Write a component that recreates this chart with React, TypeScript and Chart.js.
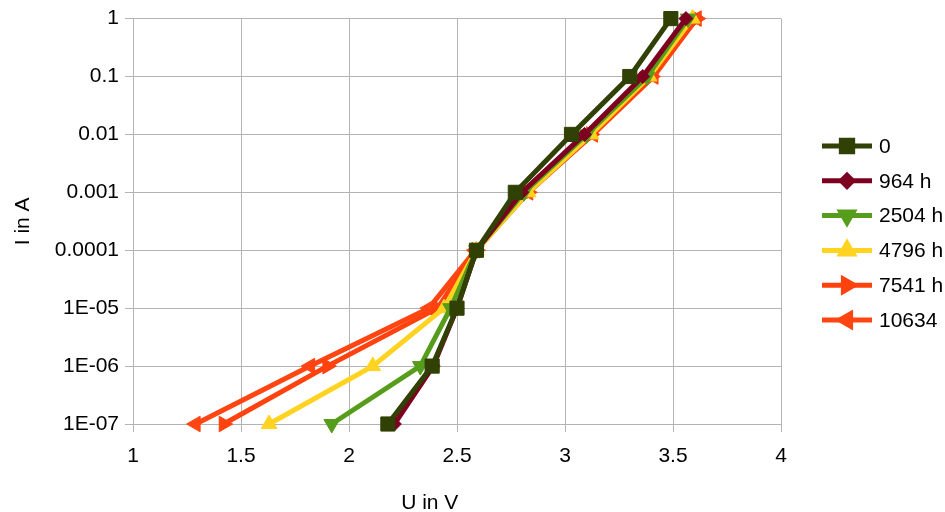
import { useEffect, useRef } from 'react';
import { Chart, registerables } from 'chart.js';
import { drawPoint } from 'chart.js/helpers';

Chart.register(...registerables);

// I in A (y) levels shared by every series
const currentLevels = [1e-7, 1e-6, 1e-5, 1e-4, 1e-3, 1e-2, 1e-1, 1];

// U in V (x) per series
const voltage0 = [2.18, 2.385, 2.5, 2.59, 2.77, 3.03, 3.3, 3.49];
const voltage964 = [2.21, 2.39, 2.5, 2.59, 2.8, 3.09, 3.36, 3.56];
const voltage2504 = [1.92, 2.33, 2.47, 2.59, 2.81, 3.1, 3.38, 3.57];
const voltage4796 = [1.63, 2.11, 2.44, 2.59, 2.83, 3.12, 3.39, 3.59];
const voltage7541 = [1.42, 1.9, 2.41, 2.59, 2.83, 3.12, 3.4, 3.61];
const voltage10634 = [1.29, 1.82, 2.37, 2.585, 2.83, 3.13, 3.41, 3.61];

const seriesNames = ['0', '964 h', '2504 h', '4796 h', '7541 h', '10634'];
const seriesVoltages = [voltage0, voltage964, voltage2504, voltage4796, voltage7541, voltage10634];

const yTickValues = [1, 0.1, 0.01, 0.001, 0.0001, 1e-5, 1e-6, 1e-7];
const yTickLabels = ['1', '0.1', '0.01', '0.001', '0.0001', '1E-05', '1E-06', '1E-07'];
const xTickValues = [1, 1.5, 2, 2.5, 3, 3.5, 4];
const xTickLabels = ['1', '1.5', '2', '2.5', '3', '3.5', '4'];

const xTitle = 'U in V';
const yTitle = 'I in A';

const styles = [
  { color: '#314004', pointStyle: 'rect', rotation: 0, radius: 10 },
  { color: '#7e0021', pointStyle: 'rectRot', rotation: 0, radius: 7 },
  { color: '#579d1c', pointStyle: 'triangle', rotation: 180, radius: 9 },
  { color: '#ffd320', pointStyle: 'triangle', rotation: 0, radius: 9 },
  { color: '#ff420e', pointStyle: 'triangle', rotation: 90, radius: 9 },
  { color: '#ff4512', pointStyle: 'triangle', rotation: 270, radius: 9 },
];

const FONT = "'Liberation Sans', Arial, sans-serif";
const FSIZE = 21;

const customPlugin = {
  id: 'customLegendTitle',
  afterDraw(chart: any) {
    const ctx = chart.ctx;
    const area = chart.chartArea;
    ctx.save();
    // x-axis title
    ctx.fillStyle = '#000';
    ctx.font = `${FSIZE}px ${FONT}`;
    ctx.textAlign = 'center';
    ctx.textBaseline = 'middle';
    ctx.fillText(xTitle, area.left + (area.right - area.left) * 0.458, 503);
    // legend
    const x0 = area.right + 41;
    chart.data.datasets.forEach((ds: any, i: number) => {
      const y = 146 + i * 34.8;
      ctx.strokeStyle = ds.borderColor;
      ctx.lineWidth = 5;
      ctx.beginPath();
      ctx.moveTo(x0, y);
      ctx.lineTo(x0 + 50, y);
      ctx.stroke();
      ctx.fillStyle = ds.backgroundColor;
      ctx.strokeStyle = ds.borderColor;
      drawPoint(ctx, {
        pointStyle: ds.pointStyle,
        rotation: ds.pointRotation,
        radius: ds.pointRadius * 0.8,
        borderWidth: 1,
      } as any, x0 + 25, y);
      ctx.fillStyle = '#000';
      ctx.textAlign = 'left';
      ctx.textBaseline = 'middle';
      ctx.font = `${FSIZE}px ${FONT}`;
      ctx.fillText(ds.label, x0 + 57, y + 1);
    });
    ctx.restore();
  },
};

export default function App() {
  const ref = useRef<HTMLCanvasElement | null>(null);
  useEffect(() => {
    if (!ref.current) return;
    const datasets = seriesVoltages.map((vs, i) => ({
      label: seriesNames[i],
      data: vs.map((v, j) => ({ x: v, y: currentLevels[j] })),
      borderColor: styles[i].color,
      backgroundColor: styles[i].color,
      borderWidth: 5,
      pointStyle: styles[i].pointStyle,
      pointRotation: styles[i].rotation,
      pointRadius: styles[i].radius,
      pointBorderWidth: 1,
      tension: 0,
      clip: false,
    }));
    const chart = new Chart(ref.current, {
      type: 'line',
      data: { datasets: datasets as any },
      plugins: [customPlugin],
      options: {
        animation: false,
        responsive: false,
        maintainAspectRatio: false,
        layout: { padding: { top: 18, right: 164, left: 0, bottom: 0 } },
        plugins: { legend: { display: false }, tooltip: { enabled: false } },
        scales: {
          x: {
            type: 'linear',
            min: 1,
            max: 4,
            afterBuildTicks: (scale: any) => {
              scale.ticks = xTickValues.map((v) => ({ value: v }));
            },
            ticks: {
              color: '#000',
              font: { family: FONT, size: FSIZE },
              padding: 12,
              autoSkip: false,
              maxRotation: 0,
              callback: (value: any) => {
                const idx = xTickValues.findIndex((v) => Math.abs(v - Number(value)) < 1e-6);
                return idx >= 0 ? xTickLabels[idx] : '';
              },
            },
            grid: { color: '#b3b3b3', tickLength: 8, lineWidth: 1 },
            border: { color: '#b3b3b3' },
            afterFit: (scale: any) => {
              scale.height = 88;
            },
          },
          y: {
            type: 'logarithmic',
            min: 1e-7,
            max: 1,
            afterBuildTicks: (scale: any) => {
              scale.ticks = yTickValues.map((v) => ({ value: v }));
            },
            ticks: {
              color: '#000',
              font: { family: FONT, size: FSIZE },
              padding: 6,
              autoSkip: false,
              callback: (value: any) => {
                const idx = yTickValues.findIndex((v) => Math.abs(Math.log10(v) - Math.log10(Number(value))) < 1e-6);
                return idx >= 0 ? yTickLabels[idx] : '';
              },
            },
            grid: { color: '#b3b3b3', tickLength: 8, lineWidth: 1 },
            border: { color: '#b3b3b3' },
            title: {
              display: true,
              text: yTitle,
              color: '#000',
              font: { family: FONT, size: FSIZE },
              padding: { top: 11, bottom: 4 },
            },
            afterFit: (scale: any) => {
              scale.width = 133;
            },
          },
        },
      },
    });
    return () => chart.destroy();
  }, []);
  return (
    <div style={{ position: 'fixed', left: 0, top: 0, width: 945, height: 512, background: '#fff' }}>
      <canvas ref={ref} width={945} height={512} style={{ width: 945, height: 512 }} />
    </div>
  );
}
